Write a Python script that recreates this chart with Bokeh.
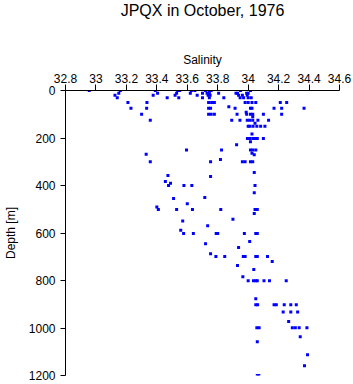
from bokeh.plotting import figure
from bokeh.models import Range1d, FixedTicker, Title, NumeralTickFormatter, ColumnDataSource
from bokeh.embed import file_html
from bokeh.resources import INLINE

title_text = "JPQX in October, 1976"
x_label = "Salinity"
y_label = "Depth [m]"
x_ticks = [32.8, 33.0, 33.2, 33.4, 33.6, 33.8, 34.0, 34.2, 34.4, 34.6]
y_ticks = [0, 200, 400, 600, 800, 1000, 1200]

# (depth, salinity) readings
depth = (
    [0] * 12 + [12] * 12 + [20] * 9 + [30] * 10 + [50] * 11 + [68] + [75] * 10 + [92]
    + [100] * 10 + [110] + [125] * 8 + [138] + [150] * 6 + [183] + [202] * 6 + [216] + [228]
    + [251] * 5 + [264] + [268] + [271] + [290] + [300] * 6 + [345] + [358] + [362] + [383] + [391]
    + [400] * 4 + [431] + [450] + [455] + [477] + [490] + [501] * 6 + [518] + [542] + [549] + [569]
    + [588] + [602] * 7 + [636] + [645] + [661] + [687] + [699] * 7 + [720] + [737] + [754] + [784]
    + [801] * 7 + [877] + [902] * 7 + [933] * 3 + [973] + [999] * 6 + [1037] + [1058] + [1113]
    + [1159] + [1200] * 2
)
salinity = (
    [32.956, 33.16, 33.39, 33.537, 33.55, 33.627, 33.65, 33.72, 33.745, 33.757, 33.95, 34.015]
    + [33.15, 33.405, 33.53, 33.62, 33.70, 33.73, 33.745, 33.806, 33.92, 33.93, 33.99, 34.0]
    + [33.125, 33.376, 33.52, 33.665, 33.737, 33.75, 33.937, 33.962, 33.994]
    + [33.14, 33.468, 33.544, 33.70, 33.745, 33.84, 33.947, 33.97, 34.0, 34.02]
    + [33.21, 33.335, 33.74, 33.76, 33.778, 33.98, 34.0, 34.025, 34.05, 34.211, 34.253]
    + [33.873]
    + [33.23, 33.333, 33.74, 33.753, 33.914, 34.015, 34.025, 34.17, 34.22, 34.367]
    + [33.987]
    + [33.30, 33.74, 33.757, 33.778, 33.927, 33.99, 34.015, 34.03, 34.1, 34.22]
    + [34.03]
    + [33.357, 33.892, 33.946, 33.994, 34.01, 34.03, 34.064, 34.134]
    + [34.045]
    + [34.0, 34.011, 34.032, 34.057, 34.082, 34.11]
    + [34.025]
    + [33.995, 34.01, 34.03, 34.045, 34.06, 34.1]
    + [34.015] + [33.924]
    + [33.595, 33.825, 34.015, 34.03, 34.05]
    + [34.025] + [33.33] + [34.04] + [33.818]
    + [33.357, 33.753, 33.962, 33.98, 34.015, 34.03]
    + [34.04] + [33.473] + [33.753] + [33.456] + [33.49]
    + [33.477, 33.578, 33.63, 34.045]
    + [34.04] + [33.715] + [33.51] + [33.6] + [33.40]
    + [33.41, 33.53, 33.634, 33.82, 34.045, 34.06]
    + [34.04] + [33.9] + [33.57] + [33.734] + [33.557]
    + [33.576, 33.64, 33.79, 33.80, 33.975, 34.05, 34.06]
    + [34.01] + [33.72] + [33.937] + [33.753]
    + [33.788, 33.846, 33.968, 33.98, 34.05, 34.06, 34.127]
    + [34.158] + [33.93] + [34.037] + [33.965]
    + [34.0, 34.035, 34.05, 34.06, 34.104, 34.14, 34.25]
    + [34.05]
    + [34.05, 34.062, 34.17, 34.185, 34.237, 34.28, 34.316]
    + [34.23, 34.28, 34.325]
    + [34.266]
    + [34.057, 34.072, 34.29, 34.31, 34.335, 34.386]
    + [34.342] + [34.06] + [34.39] + [34.37]
    + [34.06, 34.07]
)

src = ColumnDataSource(data=dict(s=salinity, d=depth))

FONT = "Liberation Sans"

p = figure(width=353, height=384, x_range=Range1d(32.8, 34.6), y_range=Range1d(1200, 0),
           x_axis_location="above", output_backend="svg", toolbar_location=None,
           min_border_left=55, min_border_right=14, min_border_top=90, min_border_bottom=9)
p.outline_line_color = None
p.grid.visible = False
p.background_fill_color = "white"
p.border_fill_color = "white"

xa = p.xaxis[0]
xa.ticker = FixedTicker(ticks=x_ticks)
xa.formatter = NumeralTickFormatter(format="0.[0]")
xa.axis_label = x_label
xa.major_tick_out = 6
xa.major_tick_in = 0
xa.minor_tick_line_color = None
xa.major_label_standoff = 2
xa.axis_label_standoff = 4
xa.major_label_text_font = FONT
xa.major_label_text_font_size = "12px"
xa.major_label_text_color = "black"
xa.axis_label_text_font = FONT
xa.axis_label_text_font_size = "12px"
xa.axis_label_text_font_style = "normal"
xa.axis_label_text_color = "black"
xa.axis_line_color = "black"
xa.major_tick_line_color = "black"

ya = p.yaxis[0]
ya.ticker = FixedTicker(ticks=y_ticks)
ya.axis_label = y_label
ya.major_tick_out = 5
ya.major_tick_in = 0
ya.minor_tick_line_color = None
ya.major_label_standoff = 5
ya.axis_label_standoff = 8
ya.major_label_text_font = FONT
ya.major_label_text_font_size = "12px"
ya.major_label_text_color = "black"
ya.axis_label_text_font = FONT
ya.axis_label_text_font_size = "12px"
ya.axis_label_text_font_style = "normal"
ya.axis_label_text_color = "black"
ya.axis_line_color = "black"
ya.major_tick_line_color = "black"

p.scatter(x="s", y="d", source=src, marker="square", size=3,
          fill_color="#0000ff", line_color=None)

# blank spacer between the axis and the title
p.add_layout(Title(text=" ", text_font_size="16px"), "above")

p.title.text = title_text
p.title.align = "center"
p.title.vertical_align = "top"
p.title.standoff = 0
p.title.text_font = FONT
p.title.text_font_size = "16px"
p.title.text_font_style = "normal"
p.title.text_color = "black"

open("out.html", "w").write(file_html(p, INLINE))
